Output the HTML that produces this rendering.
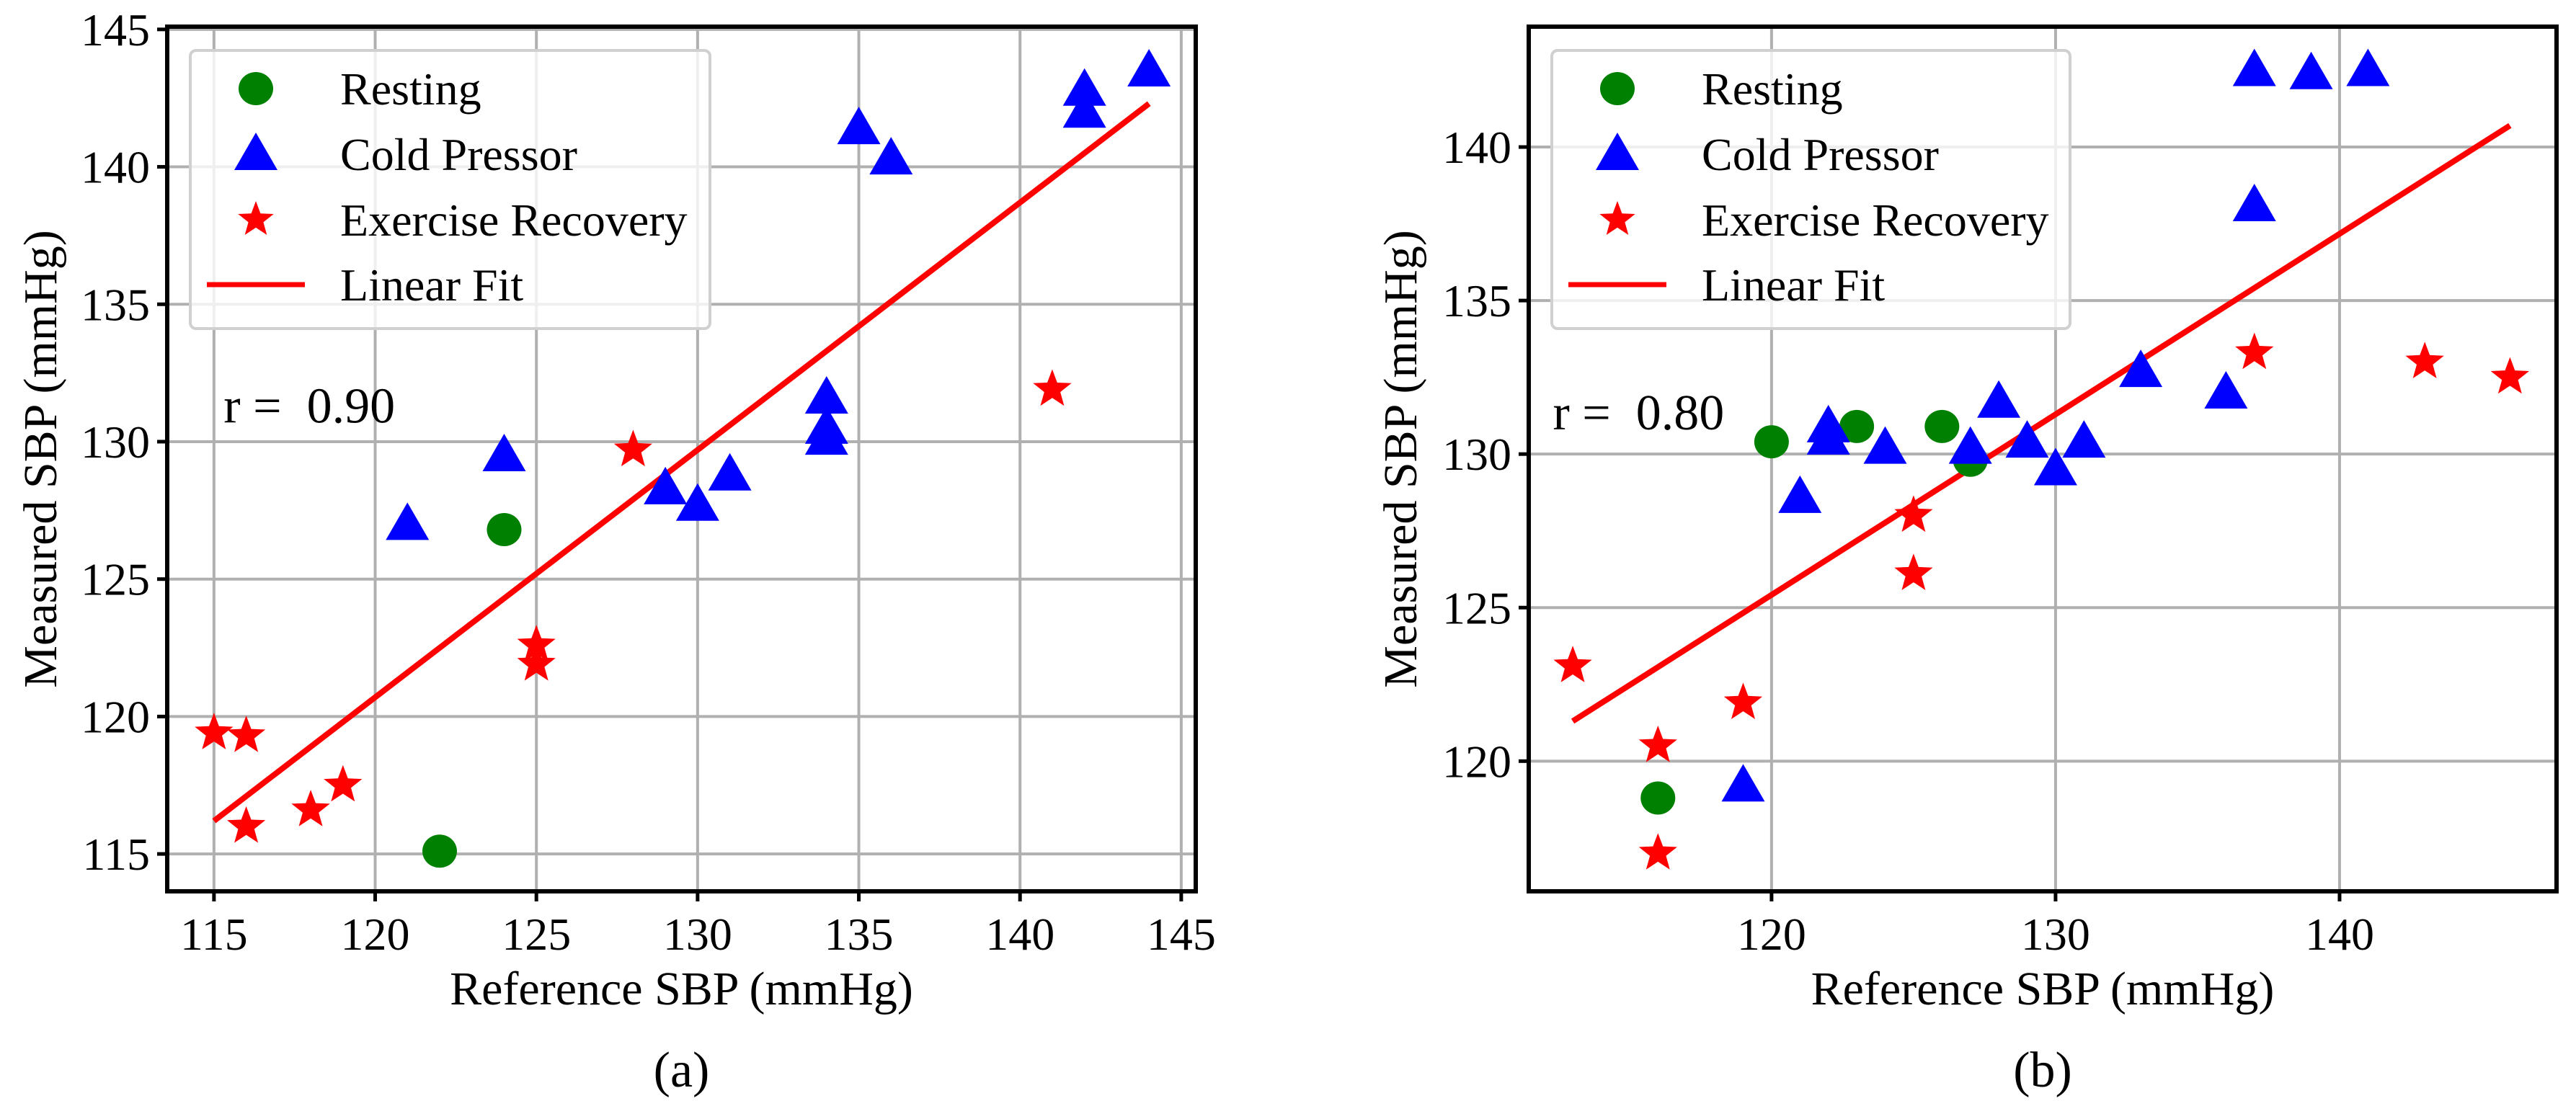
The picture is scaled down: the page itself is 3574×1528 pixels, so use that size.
<!DOCTYPE html>
<html><head><meta charset="utf-8"><style>
body{margin:0;background:#fff}
svg{display:block}
svg text{font-family:"Liberation Serif","Times New Roman",serif;fill:#000}
</style></head><body>
<svg id="fig" width="3574" height="1528" viewBox="0 0 3574 1528" xmlns="http://www.w3.org/2000/svg" font-family="Liberation Serif, serif"></svg>
<script>
// Panel (a) data
const aXTicks=[115,120,125,130,135,140,145];
const aYTicks=[115,120,125,130,135,140,145];
const aRestX=[122,124];
const aRestY=[115.1,126.8];
const aColdX=[121,124,129,130,131,134,134,134,135,136,142,142,144];
const aColdY=[127.0,129.5,128.3,127.7,128.8,130.1,130.5,131.6,141.4,140.3,142.0,142.8,143.5];
const aExX=[115,116,116,118,119,125,125,128,141];
const aExY=[119.4,119.3,116.0,116.6,117.5,122.6,121.9,129.7,131.9];
const aFitX=[115,144];
const aFitY=[116.2,142.3];
// Panel (b) data
const bXTicks=[120,130,140];
const bYTicks=[120,125,130,135,140];
const bRestX=[116,120,123,126,127];
const bRestY=[118.8,130.4,130.9,130.9,129.8];
const bColdX=[119,121,122,122,124,127,128,129,130,131,133,136,137,137,139,141];
const bColdY=[119.2,128.6,130.5,130.9,130.2,130.2,131.7,130.4,129.5,130.4,132.7,132.0,138.1,142.5,142.4,142.5];
const bExX=[113,116,116,119,125,125,137,143,146];
const bExY=[123.1,120.5,117.0,121.9,128.0,126.1,133.3,133.0,132.5];
const bFitX=[113,146];
const bFitY=[121.3,140.7];

const NS="http://www.w3.org/2000/svg";
const svg=document.getElementById('fig');
const FF='"Liberation Serif", serif';
function mk(tag,attrs,parent){const e=document.createElementNS(NS,tag);for(const k in attrs)e.setAttribute(k,attrs[k]);if(tag==='text'){e.setAttribute('font-family',FF);e.style.fontFamily=FF;}(parent||svg).appendChild(e);return e;}
function starPts(cx,cy,R){const r=R*0.42;let p=[];for(let i=0;i<10;i++){const a=-Math.PI/2+i*Math.PI/5;const rr=i%2?r:R;p.push((cx+rr*Math.cos(a)).toFixed(1)+','+(cy+rr*Math.sin(a)).toFixed(1));}return p.join(' ');}
function triPts(cx,cy){return `${cx},${cy-30} ${cx-30},${cy+22} ${cx+30},${cy+22}`;}

function panel(cfg){
  const g=mk('g',{});
  
  
  const sx=v=>cfg.L+(v-cfg.x0)/(cfg.x1-cfg.x0)*(cfg.R-cfg.L);
  const sy=v=>cfg.B-(v-cfg.y0)/(cfg.y1-cfg.y0)*(cfg.B-cfg.T);
  cfg.xt.forEach(t=>{
    const l=mk('line',{x1:sx(t),x2:sx(t),y1:cfg.T,y2:cfg.B,stroke:'#b0b0b0','stroke-width':4},g);
    
    
    mk('line',{x1:sx(t),x2:sx(t),y1:cfg.B,y2:cfg.B+14,stroke:'#000','stroke-width':5},g);
    const tx=mk('text',{x:sx(t),y:1318,'font-size':64,'text-anchor':'middle'},g);
    tx.textContent=t;
    
    
  });
  cfg.yt.forEach(t=>{
    const l=mk('line',{x1:cfg.L,x2:cfg.R,y1:sy(t),y2:sy(t),stroke:'#b0b0b0','stroke-width':4},g);
    
    
    mk('line',{x1:cfg.L-14,x2:cfg.L,y1:sy(t),y2:sy(t),stroke:'#000','stroke-width':5},g);
    const tx=mk('text',{x:cfg.L-24,y:sy(t)+22,'font-size':64,'text-anchor':'end'},g);
    tx.textContent=t;
    
    
  });
  const fit=mk('line',{x1:sx(cfg.fx[0]),y1:sy(cfg.fy[0]),x2:sx(cfg.fx[1]),y2:sy(cfg.fy[1]),stroke:'#ff0000','stroke-width':8},g);
  
  
  cfg.rx.forEach((x,i)=>{
    const c=mk('ellipse',{cx:sx(x),cy:sy(cfg.ry[i]),rx:24,ry:23,fill:'#008000'},g);
    
    
  });
  cfg.cx.forEach((x,i)=>{
    const p=mk('polygon',{points:triPts(sx(x),sy(cfg.cy[i])),fill:'#0000ff'},g);
    
    
  });
  cfg.ex.forEach((x,i)=>{
    const p=mk('polygon',{points:starPts(sx(x),sy(cfg.ey[i]),28),fill:'#ff0000'},g);
    
    
  });
  const fr=mk('rect',{x:cfg.L,y:cfg.T,width:cfg.R-cfg.L,height:cfg.B-cfg.T,fill:'none',stroke:'#000','stroke-width':6},g);
  
  
  const rt=mk('text',{x:sx(cfg.rlx),y:sy(cfg.rly),'font-size':70},g);
  rt.textContent=cfg.rtext;
  
  
  rt.style.whiteSpace='pre';
  const lg=mk('g',{},g);
  
  
  mk('rect',{x:cfg.lgx,y:70,width:cfg.lgw,height:386,rx:8,fill:'#fff','fill-opacity':0.8,stroke:'#d0d0d0','stroke-width':4},lg);
  const mx=cfg.lgx+91, tx0=cfg.lgx+208;
  const rows=[123,214,305,395];
  const labels=['Resting','Cold Pressor','Exercise Recovery','Linear Fit'];
  mk('ellipse',{cx:mx,cy:rows[0],rx:24,ry:23,fill:'#008000'},lg);
  mk('polygon',{points:triPts(mx,rows[1]),fill:'#0000ff'},lg);
  mk('polygon',{points:starPts(mx,rows[2],26),fill:'#ff0000'},lg);
  mk('line',{x1:mx-68,x2:mx+68,y1:rows[3],y2:rows[3],stroke:'#ff0000','stroke-width':7},lg);
  labels.forEach((s,i)=>{
    const t=mk('text',{x:tx0,y:rows[i]+22,'font-size':64},lg);
    t.textContent=s;
    
    
  });
  const xl=mk('text',{x:(cfg.L+cfg.R)/2,y:1394,'font-size':66,'text-anchor':'middle'},g);
  xl.textContent='Reference SBP (mmHg)';
  
  
  const yl=mk('text',{x:0,y:0,'font-size':66,'text-anchor':'middle',transform:`translate(${cfg.ylx},${(cfg.T+cfg.B)/2}) rotate(-90)`},g);
  yl.textContent='Measured SBP (mmHg)';
  
  
  const cap=mk('text',{x:(cfg.L+cfg.R)/2,y:1508,'font-size':70,'text-anchor':'middle'},g);
  cap.textContent=cfg.cap;
  
  
}
panel({name:'panel-a',L:232,R:1659,T:37,B:1237,x0:113.55,x1:145.45,y0:113.64,y1:145.1,
  xt:aXTicks,yt:aYTicks,rx:aRestX,ry:aRestY,cx:aColdX,cy:aColdY,ex:aExX,ey:aExY,fx:aFitX,fy:aFitY,
  rlx:115.3,rly:130.7,rtext:'r =  0.90',lgx:264,lgw:721,ylx:78,cap:'(a)'});
panel({name:'panel-b',L:2121,R:3547,T:37,B:1237,x0:111.45,x1:147.64,y0:115.76,y1:143.92,
  xt:bXTicks,yt:bYTicks,rx:bRestX,ry:bRestY,cx:bColdX,cy:bColdY,ex:bExX,ey:bExY,fx:bFitX,fy:bFitY,
  rlx:112.3,rly:130.8,rtext:'r =  0.80',lgx:2153,lgw:719,ylx:1965,cap:'(b)'});
</script>
</body></html>
